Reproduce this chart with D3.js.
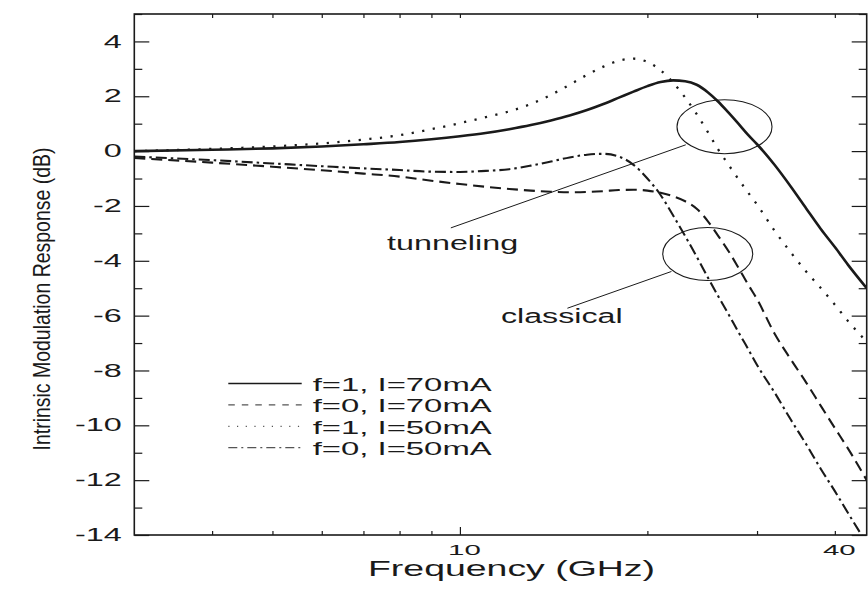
<!DOCTYPE html>
<html>
<head>
<meta charset="utf-8">
<script src="https://cdn.jsdelivr.net/npm/d3@7"></script>
<style>
  body { margin: 0; background: #fff; }
  svg { display: block; }
</style>
</head>
<body>
<div id="chart"></div>
<script>
// frequency grid (GHz)
const freq = [3, 4, 5, 6, 7, 8, 9, 10, 11, 12, 13, 14, 15, 16, 17, 18, 19, 20,
              21, 22, 23, 24, 25, 26, 27, 28, 29, 30, 32, 34, 36, 38, 40, 42, 45];

// modulation response (dB) for each curve
const f1_70mA = [0.0, 0.05, 0.1, 0.17, 0.25, 0.33, 0.43, 0.54, 0.66, 0.8, 0.95, 1.12, 1.3, 1.5, 1.72, 1.95, 2.17, 2.37,
                 2.52, 2.58, 2.55, 2.42, 2.15, 1.8, 1.4, 1.0, 0.6, 0.25, -0.5, -1.3, -2.1, -2.85, -3.5, -4.15, -5.0];
const f0_70mA = [-0.25, -0.42, -0.57, -0.7, -0.82, -0.93, -1.08, -1.2, -1.3, -1.38, -1.44, -1.48, -1.5, -1.49, -1.46, -1.42, -1.41, -1.44,
                 -1.52, -1.65, -1.83, -2.1, -2.55, -3.1, -3.65, -4.25, -4.85, -5.4, -6.65, -7.6, -8.45, -9.3, -10.1, -10.85, -12.0];
const f1_50mA = [0.0, 0.08, 0.17, 0.28, 0.42, 0.58, 0.8, 1.02, 1.24, 1.45, 1.72, 2.05, 2.42, 2.78, 3.08, 3.3, 3.37, 3.25,
                 2.95, 2.5, 1.95, 1.35, 0.7, 0.05, -0.5, -1.02, -1.5, -1.95, -2.9, -3.7, -4.4, -5.0, -5.6, -6.2, -6.95];
const f0_50mA = [-0.2, -0.33, -0.45, -0.55, -0.63, -0.69, -0.75, -0.76, -0.72, -0.66, -0.53, -0.38, -0.23, -0.13, -0.1, -0.2, -0.5, -1.0,
                 -1.6, -2.35, -3.1, -3.85, -4.6, -5.3, -5.95, -6.6, -7.2, -7.8, -8.8, -9.8, -10.7, -11.6, -12.4, -13.2, -14.3];

const seriesNames = ["f=1, I=70mA", "f=0, I=70mA", "f=1, I=50mA", "f=0, I=50mA"];
const seriesValues = [f1_70mA, f0_70mA, f1_50mA, f0_50mA];

const xTicks = [4, 5, 6, 7, 8, 9, 10, 20, 30, 40];
const xTickLabels = [10, 40];
const yMajor = [-14, -12, -10, -8, -6, -4, -2, 0, 2, 4];
const yMinor = [-13, -11, -9, -7, -5, -3, -1, 1, 3, 5];

const width = 868, height = 590;
const margin = {top: 14, right: 1.3, bottom: 55, left: 134.3};
const font = "'Liberation Sans', Arial, Helvetica, sans-serif";
const ink = "#1a1a1a";

const x = d3.scaleLog()
            .domain([3, 45])
            .range([margin.left, width - margin.right]);
const y = d3.scaleLinear()
            .domain([-14, 5])
            .range([height - margin.bottom, margin.top]);

const svg = d3.select('#chart').append('svg')
              .attr('width', width)
              .attr('height', height);

svg.append('defs').append('clipPath').attr('id', 'plot')
   .append('rect')
   .attr('x', margin.left).attr('y', margin.top)
   .attr('width', width - margin.left - margin.right)
   .attr('height', height - margin.top - margin.bottom);

// axes, ticks pointing inward
function styleAxis(g) {
  g.select('.domain').remove();
  g.selectAll('.tick line').attr('stroke', ink).attr('stroke-width', 1.2);
  g.attr('font-family', font).attr('fill', ink);
}

svg.append('g')
   .attr('transform', `translate(0,${y(-14)})`)
   .call(d3.axisBottom(x).tickValues(xTicks).tickSize(-4).tickPadding(9)
           .tickFormat(d => xTickLabels.includes(d) ? d : ''))
   .call(styleAxis)
   .call(g => g.selectAll('.tick line').filter(d => d === 10).attr('y2', -8))
   .call(g => g.selectAll('.tick text')
               .attr('font-size', 15.5).attr('fill', ink)
               .attr('transform', 'translate(4,0) scale(1.9,1)'));

svg.append('g')
   .attr('transform', `translate(0,${y(5)})`)
   .call(d3.axisTop(x).tickValues(xTicks).tickSize(-4).tickFormat(''))
   .call(styleAxis);

svg.append('g')
   .attr('transform', `translate(${x(3)},0)`)
   .call(d3.axisLeft(y).tickValues(yMajor).tickSize(-15).tickFormat(d => String(d)))
   .call(styleAxis)
   .call(g => g.selectAll('.tick text')
               .attr('x', 0)
               .attr('font-size', 17.5).attr('fill', ink)
               .attr('transform', 'translate(-12.5,0) scale(1.85,1)'));

svg.append('g')
   .attr('transform', `translate(${x(3)},0)`)
   .call(d3.axisLeft(y).tickValues(yMinor).tickSize(-8).tickFormat(''))
   .call(styleAxis);

svg.append('g')
   .attr('transform', `translate(${x(45)},0)`)
   .call(d3.axisRight(y).tickValues(yMajor).tickSize(-15).tickFormat(''))
   .call(styleAxis);

svg.append('g')
   .attr('transform', `translate(${x(45)},0)`)
   .call(d3.axisRight(y).tickValues(yMinor).tickSize(-8).tickFormat(''))
   .call(styleAxis);

// frame
svg.append('rect')
   .attr('x', x(3)).attr('y', y(5))
   .attr('width', x(45) - x(3)).attr('height', y(-14) - y(5))
   .attr('fill', 'none').attr('stroke', ink).attr('stroke-width', 1.6);

// axis titles
svg.append('text')
   .attr('x', (x(3) + x(45)) / 2 + 11)
   .attr('y', 575.7)
   .attr('text-anchor', 'middle')
   .attr('font-family', font).attr('font-size', 21.5).attr('fill', ink)
   .attr('textLength', 287).attr('lengthAdjust', 'spacingAndGlyphs')
   .text('Frequency (GHz)');

svg.append('text')
   .attr('transform', 'translate(50,299) rotate(-90)')
   .attr('text-anchor', 'middle')
   .attr('font-family', font).attr('font-size', 24.5).attr('fill', ink)
   .attr('textLength', 303).attr('lengthAdjust', 'spacingAndGlyphs')
   .text('Intrinsic Modulation Response (dB)');

// curves
const styles = [
  {width: 2.6, dash: null},
  {width: 2.1, dash: '11 6'},
  {width: 2.3, dash: '2.2 8.5'},
  {width: 2.1, dash: '11 4 2.5 4'}
];

const line = d3.line()
               .x((d, i) => x(freq[i]))
               .y(d => y(d))
               .curve(d3.curveMonotoneX);

svg.append('g').attr('clip-path', 'url(#plot)')
   .selectAll('path')
   .data(seriesValues)
   .join('path')
     .attr('d', d => line(d))
     .attr('fill', 'none')
     .attr('stroke', ink)
     .attr('stroke-width', (d, i) => styles[i].width)
     .attr('stroke-dasharray', (d, i) => styles[i].dash);

// annotations: ellipses, pointer lines and labels (in data coordinates)
const notes = [
  {label: 'tunneling', cf: 26.6, cdb: 0.89, rx: 47.5, ry: 27,
   from: [23.05, 0.23], to: [9.67, -2.8], tf: 7.64, tdb: -3.59, tlen: 131},
  {label: 'classical', cf: 25.0, cdb: -3.75, rx: 45, ry: 26.5,
   from: [21.86, -4.39], to: [14.88, -5.73], tf: 11.64, tdb: -6.28, tlen: 121.6}
];

const ann = svg.append('g');
ann.selectAll('ellipse')
   .data(notes)
   .join('ellipse')
     .attr('cx', d => x(d.cf)).attr('cy', d => y(d.cdb))
     .attr('rx', d => d.rx).attr('ry', d => d.ry)
     .attr('fill', 'none').attr('stroke', ink).attr('stroke-width', 1.1);
ann.selectAll('line')
   .data(notes)
   .join('line')
     .attr('x1', d => x(d.from[0])).attr('y1', d => y(d.from[1]))
     .attr('x2', d => x(d.to[0])).attr('y2', d => y(d.to[1]))
     .attr('stroke', ink).attr('stroke-width', 1);
ann.selectAll('text')
   .data(notes)
   .join('text')
     .attr('x', d => x(d.tf)).attr('y', d => y(d.tdb))
     .attr('font-family', font).attr('font-size', 20).attr('fill', ink)
     .attr('textLength', d => d.tlen).attr('lengthAdjust', 'spacingAndGlyphs')
     .text(d => d.label);

// legend
const legendDash = [null, '6.5 7', '1.2 7.5', '9 4 2 4'];
const legend = svg.append('g').attr('transform', 'translate(228.3,383.5)');
const rows = legend.selectAll('g')
   .data(seriesNames)
   .join('g')
     .attr('transform', (d, i) => `translate(0,${i * 21.4})`);
rows.append('line')
    .attr('x1', 0).attr('x2', 73.4)
    .attr('stroke', (d, i) => i === 0 ? ink : '#555')
    .attr('stroke-width', (d, i) => i === 0 ? 1.4 : 1.3)
    .attr('stroke-dasharray', (d, i) => legendDash[i]);
rows.append('text')
    .attr('x', 84.4).attr('y', 7.3)
    .attr('font-family', font).attr('font-size', 18.5).attr('fill', ink)
    .attr('textLength', 179).attr('lengthAdjust', 'spacingAndGlyphs')
    .text(d => d);
</script>
</body>
</html>
